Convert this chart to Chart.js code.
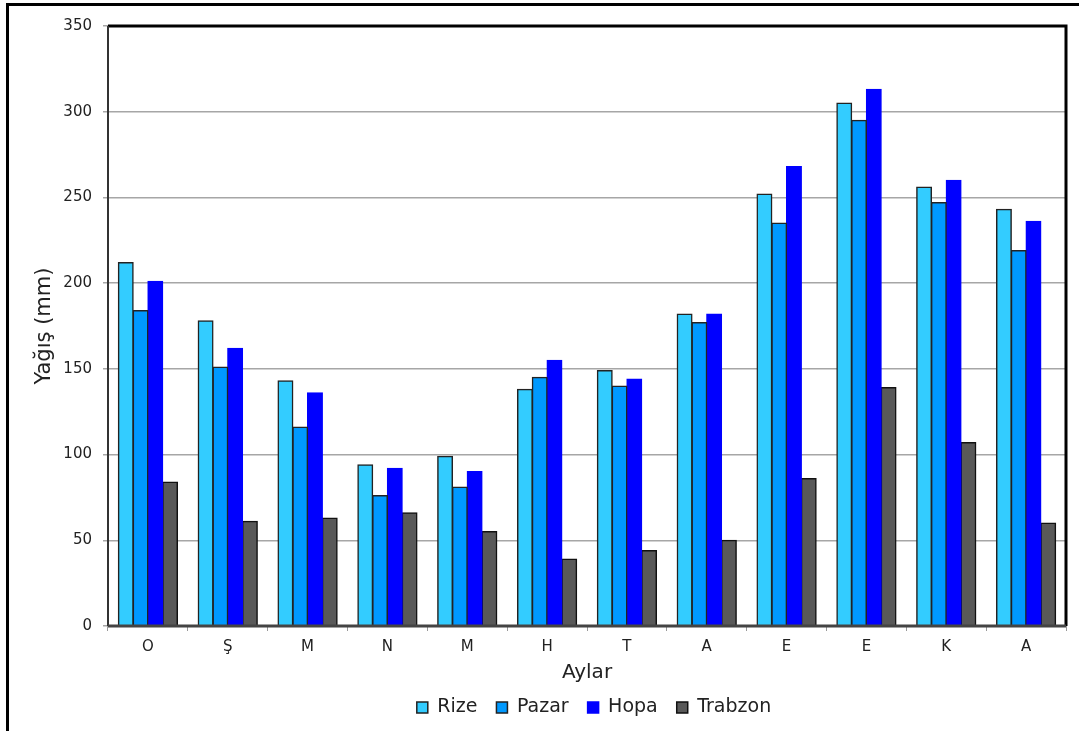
<!DOCTYPE html>
<html>
<head>
<meta charset="utf-8">
<script src="https://cdn.jsdelivr.net/npm/chart.js@4"></script>
<style>
  body { margin: 0; background: #fff; overflow: hidden; }
  #frame { position: absolute; left: 6px; top: 3px; width: 1100px; height: 800px; border: 3px solid #000; }
  #wrap { position: absolute; left: 0; top: 0; width: 1079px; height: 731px; }
</style>
</head>
<body>
<div id="frame"></div>
<div id="wrap"><canvas id="myChart" width="1079" height="731"></canvas></div>
<script>
let aylar = ['O', 'Ş', 'M', 'N', 'M', 'H', 'T', 'A', 'E', 'E', 'K', 'A']
let rize = [212, 178, 143, 94, 99, 138, 149, 182, 252, 305, 256, 243]
let pazar = [184, 151, 116, 76, 81, 145, 140, 177, 235, 295, 247, 219]
let hopa = [201, 162, 136, 92, 90, 155, 144, 182, 268, 313, 260, 236]
let trabzon = [84, 61, 63, 66, 55, 39, 44, 50, 86, 139, 107, 60]

const yaziTipi = "'DejaVu Sans', sans-serif";

// kalin siyah cerceve (plot alani) + legend kaydirma
const cerceve = {
  id: 'cerceve',
  afterLayout(chart) {
    // legend plot alaninin ortasina gelsin, biraz yukari
    const a = chart.chartArea;
    const lg = chart.legend;
    const kay = (a.left + a.right) / 2 - (lg.left + lg.right) / 2 + 7;
    lg.left += kay;
    lg.right += kay;
    lg.top -= 10;
    lg.bottom -= 10;
  },
  afterDraw(chart) {
    const a = chart.chartArea;
    const ctx = chart.ctx;
    ctx.save();
    ctx.strokeStyle = '#000';
    ctx.lineWidth = 3;
    ctx.beginPath();
    ctx.moveTo(a.left, a.top);
    ctx.lineTo(a.right, a.top);
    ctx.lineTo(a.right, a.bottom);
    ctx.stroke();
    ctx.strokeStyle = '#333';
    ctx.lineWidth = 2;
    ctx.beginPath();
    ctx.moveTo(a.left, a.top);
    ctx.lineTo(a.left, a.bottom);
    ctx.stroke();
    ctx.strokeStyle = '#444';
    ctx.lineWidth = 3;
    ctx.beginPath();
    ctx.moveTo(a.left, a.bottom);
    ctx.lineTo(a.right, a.bottom);
    ctx.stroke();
    ctx.restore();
  }
};

function seri(ad, veri, renk, kenar) {
  return {
    label: ad,
    data: veri,
    backgroundColor: renk,
    borderColor: kenar,
    borderWidth: 1.5,
    inflateAmount: 0.6,
    categoryPercentage: 0.74,
    barPercentage: 1
  };
}

const data = {
  labels: aylar,
  datasets: [
    seri('Rize', rize, '#33CCFF', '#222'),
    seri('Pazar', pazar, '#0099FF', '#222'),
    seri('Hopa', hopa, '#0000FF', '#0000FF'),
    seri('Trabzon', trabzon, '#595959', '#111')
  ]
};

const config = {
  type: 'bar',
  data: data,
  plugins: [cerceve],
  options: {
    responsive: false,
    animation: false,
    layout: { padding: { left: 28, top: 26, right: 13, bottom: 0 } },
    plugins: {
      tooltip: { enabled: false },
      legend: {
        position: 'bottom',
        maxHeight: 42,
        labels: {
          color: '#222',
          font: { family: yaziTipi, size: 19 },
          boxWidth: 11,
          boxHeight: 11,
          padding: 19,
          useBorderRadius: false
        }
      }
    },
    scales: {
      x: {
        afterFit(scale) { scale.height = 63; },
        grid: { drawOnChartArea: false, drawTicks: true, tickLength: 5, color: '#999', offset: true },
        border: { display: false },
        ticks: { color: '#222', font: { family: yaziTipi, size: 15 }, padding: 7 },
        title: { display: true, text: 'Aylar', color: '#222', font: { family: yaziTipi, size: 20 }, padding: 4 }
      },
      y: {
        min: 0,
        max: 350,
        afterFit(scale) { scale.width = 80; },
        grid: { color: '#a6a6a6', lineWidth: 1.5, tickLength: 5 },
        border: { display: false },
        ticks: { stepSize: 50, color: '#222', font: { family: yaziTipi, size: 15 }, padding: 11 },
        title: { display: true, text: 'Yağış (mm)', color: '#222', font: { family: yaziTipi, size: 21 }, padding: 4 }
      }
    }
  }
};

const myChart = new Chart(document.getElementById('myChart'), config);
</script>
</body>
</html>
